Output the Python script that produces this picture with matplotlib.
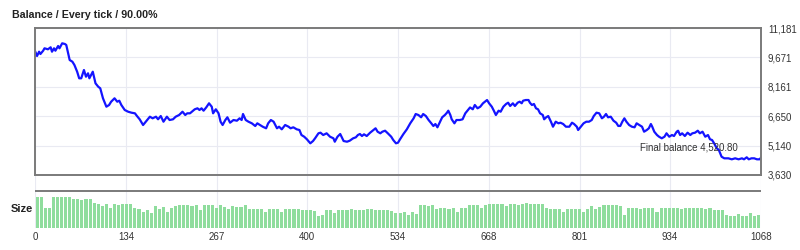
import numpy as np
import matplotlib
matplotlib.use("Agg")
import matplotlib.pyplot as plt

plt.rcParams['font.family'] = ['Liberation Sans', 'DejaVu Sans']

# balance curve (trade number, balance)
trades = [0, 3, 6, 8, 12, 14, 19, 23, 25, 28, 30, 34, 36, 40, 44, 46, 51, 55, 58, 62,
          65, 68, 72, 75, 78, 80, 85, 89, 93, 96, 100, 105, 109, 112, 117, 121, 124, 127, 132, 137,
          142, 147, 150, 154, 159, 169, 173, 178, 181, 185, 189, 194, 198, 203, 207, 212, 217, 221, 224, 228,
          232, 235, 239, 242, 245, 248, 252, 256, 260, 262, 266, 270, 273, 276, 280, 283, 287, 292, 297, 301,
          304, 306, 310, 314, 319, 324, 327, 331, 335, 340, 343, 347, 351, 356, 359, 363, 368, 373, 376, 380,
          385, 389, 392, 396, 400, 405, 409, 412, 417, 420, 424, 429, 434, 439, 441, 445, 449, 451, 454, 459,
          463, 468, 472, 475, 478, 481, 484, 488, 493, 498, 501, 504, 508, 511, 515, 519, 524, 527, 531, 534,
          537, 542, 547, 552, 557, 560, 564, 568, 571, 575, 579, 583, 586, 589, 592, 596, 599, 603, 606, 608,
          611, 613, 617, 620, 625, 629, 633, 637, 640, 644, 647, 651, 655, 659, 662, 665, 668, 672, 675, 678,
          682, 685, 689, 693, 696, 699, 703, 706, 710, 713, 716, 718, 722, 726, 728, 731, 734, 737, 740, 743,
          747, 749, 752, 755, 759, 762, 766, 770, 773, 777, 781, 786, 790, 793, 797, 799, 803, 807, 811, 815,
          819, 822, 826, 830, 834, 837, 840, 843, 847, 851, 855, 858, 861, 864, 867, 870, 874, 878, 882, 885,
          889, 893, 896, 900, 903, 906, 908, 911, 915, 918, 922, 926, 929, 933, 937, 940, 944, 946, 949, 952,
          956, 960, 964, 967, 971, 975, 978, 982, 986, 990, 993, 996, 999, 1003, 1006, 1010, 1014, 1020, 1025, 1030,
          1035, 1040, 1043, 1047, 1050, 1054, 1058, 1062, 1066, 1068]
balance = [10000, 9743, 9964, 9845, 10015, 10138, 10087, 10190, 9964, 10138, 10015, 10256, 10138, 10395, 10359, 10308, 9537, 9450, 9280, 8936,
           8597, 8597, 9023, 8679, 8854, 8597, 8936, 8340, 8166, 8083, 7570, 7138, 7226, 7395, 7570, 7395, 7446, 7226, 6969, 6881,
           6830, 6799, 6660, 6491, 6198, 6625, 6542, 6625, 6491, 6660, 6368, 6625, 6455, 6491, 6625, 6712, 6881, 6712, 6799, 6799,
           6917, 7005, 7056, 6969, 7056, 6933, 7107, 7313, 7138, 6799, 7005, 6799, 6368, 6198, 6455, 6594, 6316, 6455, 6419, 6542,
           6455, 6763, 6455, 6368, 6285, 6147, 6285, 6198, 6111, 6029, 6285, 6455, 6368, 6029, 6111, 5977, 6198, 6111, 6029, 6080,
           5977, 5941, 5684, 5597, 5464, 5258, 5376, 5515, 5772, 5803, 5684, 5772, 5597, 5515, 5340, 5597, 5736, 5597, 5376, 5340,
           5392, 5515, 5566, 5684, 5736, 5633, 5720, 5633, 5803, 5941, 6029, 5854, 5772, 5854, 5905, 5772, 5597, 5428, 5258, 5289,
           5464, 5736, 5977, 6285, 6542, 6763, 6712, 6594, 6763, 6660, 6455, 6285, 6147, 6249, 6080, 6368, 6594, 6712, 6830, 6933,
           6712, 6491, 6285, 6455, 6455, 6491, 6799, 6969, 7100, 7005, 7226, 7056, 7138, 7313, 7395, 7482, 7313, 7138, 6933, 6712,
           6933, 6881, 7138, 7277, 7344, 7174, 7313, 7174, 7344, 7395, 7313, 7446, 7482, 7482, 7344, 7226, 7277, 7056, 7005, 6799,
           6712, 6491, 6594, 6660, 6368, 6111, 6368, 6285, 6316, 6249, 6111, 6111, 6316, 6249, 6111, 5941, 6111, 6285, 6368, 6368,
           6455, 6660, 6830, 6799, 6542, 6625, 6763, 6594, 6625, 6419, 6316, 6150, 6150, 6368, 6542, 6368, 6198, 6111, 6080, 6285,
           6198, 6111, 5854, 5941, 6029, 6249, 6111, 5854, 5684, 5597, 5515, 5597, 5772, 5597, 5684, 5633, 5854, 5905, 5684, 5772,
           5633, 5803, 5684, 5772, 5803, 5905, 5772, 5854, 5597, 5684, 5464, 5428, 5258, 5001, 4914, 4570, 4487, 4487, 4436, 4487,
           4436, 4487, 4436, 4539, 4436, 4487, 4487, 4436, 4436, 4521]

# lot size, one value per 6 trades
size = [3.1, 3.1, 2.0, 2.0, 3.1, 3.1, 3.1, 3.1, 3.1,
        2.9, 2.9, 2.8, 2.9, 2.9, 2.5,
        2.4, 2.2, 2.4, 2.0,
        2.4, 2.3, 2.4, 2.4, 2.4, 2.0,
        1.9, 1.6, 1.8, 1.5,
        2.2, 1.9, 2.1, 1.6, 2.0, 2.2,
        2.3, 2.3, 2.3, 2.2, 2.3, 1.8, 2.3, 2.3, 2.3, 2.0, 2.3,
        2.1, 1.9, 2.2, 2.1, 2.1, 2.3,
        1.9, 1.9, 1.9, 1.9, 1.6, 1.9, 1.9, 1.9, 1.6, 1.9, 1.9, 1.9, 1.9,
        1.8, 1.8, 1.8, 1.7, 1.2, 1.3, 1.8, 1.8, 1.5, 1.8,
        1.8, 1.8, 1.9, 1.8, 1.8, 1.8, 1.9, 1.9, 1.8, 1.8, 1.8, 1.8, 1.7,
        1.5, 1.5, 1.6, 1.3, 1.6, 1.4,
        2.3, 2.3, 2.2, 2.3, 1.9, 2.0,
        2.0, 1.9, 2.0, 1.6, 2.0, 2.0,
        2.3, 2.3, 2.3, 2.0, 2.3,
        2.4, 2.4, 2.4, 2.4, 2.2, 2.4, 2.4, 2.3, 2.4, 2.5, 2.4, 2.4, 2.4, 2.4, 2.0,
        1.9, 1.9, 1.9, 1.6, 1.9, 1.9, 1.9, 1.9, 1.6, 1.9, 2.2, 1.9, 2.1,
        2.3, 2.3, 2.3, 2.3, 2.2, 1.3,
        2.0, 2.0, 2.0, 1.9, 2.0, 2.0, 2.0, 1.6, 2.0, 2.0, 2.0, 2.0,
        2.0, 1.9, 2.0, 2.0, 2.0, 2.0, 2.0, 1.9, 2.0, 1.8, 1.8, 1.8,
        1.3, 1.2, 1.2, 1.4, 1.2, 1.2, 1.5, 1.2, 1.3]
size_step = 6

xticks = [0, 134, 267, 400, 534, 668, 801, 934, 1068]
yticks = [3630, 5140, 6650, 8161, 9671, 11181]
ylabels = ['3,630', '5,140', '6,650', '8,161', '9,671', '11,181']

title = 'Balance / Every tick / 90.00%'
final_text = 'Final balance 4,520.80'

grid_c = '#e9eaf2'
frame_c = '#7a7a7a'
text_c = '#333333'

fig = plt.figure(figsize=(8, 2.5), dpi=100)
W, H = 800, 250

def box(x0, y0, x1, y1):
    return [x0 / W, 1 - y1 / H, (x1 - x0) / W, (y1 - y0) / H]

ax = fig.add_axes(box(35, 28, 761, 175))
ax.plot(trades, balance, color='#1414ff', lw=1.6, solid_joinstyle='round')
ax.set_xlim(0, 1068)
ax.set_ylim(yticks[0], yticks[-1])
ax.set_xticks(xticks)
ax.set_yticks(yticks)
ax.set_xticklabels([])
ax.set_yticklabels(ylabels)
ax.yaxis.tick_right()
ax.tick_params(length=0, labelsize=7, colors=text_c, pad=5)
ax.grid(True, color=grid_c, lw=0.8)
for s in ax.spines.values():
    s.set_color(frame_c)
    s.set_linewidth(1.4)
ax.text(0.968, 0.185, final_text, transform=ax.transAxes, ha='right', va='center',
        fontsize=7, color=text_c)

# size panel
ax2 = fig.add_axes(box(35, 176, 761, 228))
top = max(size) * 52 / 31.5
ax2.bar(np.arange(len(size)) * size_step + size_step / 2, size, width=size_step * 0.75,
        color='#8fdd9d', edgecolor='none')
ax2.set_xlim(0, 1068)
ax2.set_ylim(0, top)
ax2.axhline(max(size) * 37.5 / 31.5, color=frame_c, lw=1.4)
ax2.set_xticks(xticks)
ax2.set_yticks([])
ax2.tick_params(length=0, labelsize=7, colors=text_c, pad=3)
ax2.grid(True, axis='x', color=grid_c, lw=0.8)
ax2.set_axisbelow(True)
for s in ax2.spines.values():
    s.set_visible(False)

fig.text(12 / W, 1 - 15 / H, title, fontsize=7.7, fontweight='bold', color='#222222', va='center')
fig.text(11 / W, 1 - 209 / H, 'Size', fontsize=8, fontweight='bold', color='#222222', va='center')

fig.savefig('out.png', dpi=100, facecolor='white')
